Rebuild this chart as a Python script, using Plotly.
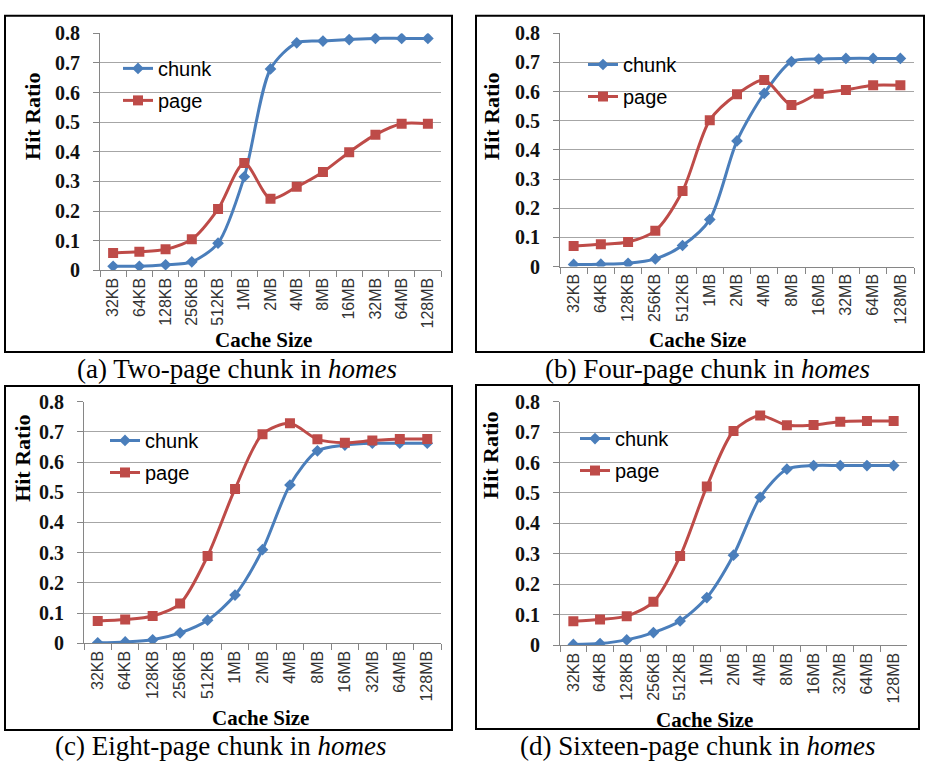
import plotly.graph_objects as go

W, H = 925, 772

categories = ["32KB", "64KB", "128KB", "256KB", "512KB", "1MB", "2MB",
              "4MB", "8MB", "16MB", "32MB", "64MB", "128MB"]
y_ticks = [0, 0.1, 0.2, 0.3, 0.4, 0.5, 0.6, 0.7, 0.8]
y_ticktext = ["0", "0.1", "0.2", "0.3", "0.4", "0.5", "0.6", "0.7", "0.8"]

a_chunk = [0.014, 0.014, 0.019, 0.029, 0.092, 0.316, 0.680, 0.768, 0.774, 0.779, 0.783, 0.783, 0.783]
a_page = [0.059, 0.063, 0.071, 0.105, 0.207, 0.362, 0.242, 0.282, 0.332, 0.399, 0.458, 0.495, 0.495]
b_chunk = [0.007, 0.008, 0.011, 0.026, 0.072, 0.161, 0.431, 0.594, 0.703, 0.712, 0.714, 0.714, 0.714]
b_page = [0.070, 0.076, 0.084, 0.123, 0.259, 0.502, 0.591, 0.640, 0.554, 0.593, 0.606, 0.622, 0.622]
c_chunk = [0.002, 0.005, 0.012, 0.035, 0.077, 0.160, 0.310, 0.524, 0.637, 0.656, 0.662, 0.662, 0.662]
c_page = [0.074, 0.079, 0.091, 0.132, 0.289, 0.511, 0.692, 0.728, 0.675, 0.664, 0.671, 0.676, 0.676]
d_chunk = [0.003, 0.006, 0.018, 0.042, 0.080, 0.157, 0.296, 0.486, 0.578, 0.590, 0.590, 0.590, 0.590]
d_page = [0.079, 0.085, 0.096, 0.143, 0.293, 0.521, 0.703, 0.754, 0.722, 0.723, 0.734, 0.736, 0.736]

captions = ["(a) Two-page chunk in <i>homes</i>", "(b) Four-page chunk in <i>homes</i>",
            "(c) Eight-page chunk in <i>homes</i>", "(d) Sixteen-page chunk in <i>homes</i>"]
series_names = ["chunk", "page"]

BLUE = "#4A7EBB"
RED = "#BE4B48"
GRID = "#A6A6A6"

# panel geometry in pixels: plot area (x0, x1, ytop, ybottom), frame, legend, labels
panels = [
    dict(plot=(100, 441, 23, 267), box=(5, 452, 5, 351), leg=(118, 39),
         ytitle=(33, 109), xtitle=(263, 339), cap=(237, 368), data=(a_chunk, a_page)),
    dict(plot=(560, 914, 23, 263), box=(476, 924, 5, 351), leg=(583, 35),
         ytitle=(492, 109), xtitle=(697, 339), cap=(707, 368), data=(b_chunk, b_page)),
    dict(plot=(84, 441, 402, 651), box=(5, 452, 386, 740), leg=(105, 422),
         ytitle=(23, 461), xtitle=(260, 728), cap=(220, 757), data=(c_chunk, c_page)),
    dict(plot=(560, 907, 402, 653), box=(476, 919, 385, 739), leg=(575, 420),
         ytitle=(491, 458), xtitle=(704, 730), cap=(697, 757), data=(d_chunk, d_page)),
]

fig = go.Figure()
layout = dict(width=W, height=H, margin=dict(l=0, r=0, t=0, b=0),
              paper_bgcolor="white", plot_bgcolor="white", showlegend=True)
shapes = []
annotations = []

for i, p in enumerate(panels):
    n = "" if i == 0 else str(i + 1)
    x0, x1, yt, yb = p["plot"]
    chunk, page = p["data"]
    legname = "legend" + n
    for k, (vals, color, sym, size) in enumerate([(chunk, BLUE, "diamond", 9), (page, RED, "square", 10)]):
        fig.add_trace(go.Scatter(
            x=categories, y=vals, name=series_names[k], mode="lines+markers",
            line=dict(color=color, width=3, shape="spline", smoothing=0.8),
            marker=dict(symbol=sym, size=size, color=color),
            xaxis="x" + n, yaxis="y" + n, legend=legname,
            legendgroup=f"{i}_{k}"))
    layout["xaxis" + n] = dict(
        domain=[x0 / W, x1 / W], anchor="y" + n, type="category",
        categoryorder="array", categoryarray=categories, range=[-0.5, 12.5],
        tickson="boundaries", ticks="outside", ticklen=6, tickcolor="#868686",
        showline=True, linecolor="#868686", linewidth=1, showgrid=False,
        tickangle=-90, tickfont=dict(family="Liberation Sans", size=16, color="#333333"),
        fixedrange=True)
    layout["yaxis" + n] = dict(
        domain=[1 - yb / H, 1 - yt / H], anchor="x" + n, range=[0, 0.8],
        tickvals=y_ticks, ticktext=["<b>%s</b>" % t for t in y_ticktext],
        ticks="outside", ticklen=6,
        tickcolor="#868686", showline=True, linecolor="#868686", linewidth=1,
        showgrid=True, gridcolor=GRID, gridwidth=1, zeroline=False,
        ticklabelstandoff=9,
        tickfont=dict(family="Liberation Serif", size=20, color="#111111"),
        fixedrange=True)
    lx, ly = p["leg"]
    layout[legname] = dict(
        x=lx / W, y=1 - ly / H, xanchor="left", yanchor="top",
        bgcolor="rgba(0,0,0,0)", borderwidth=0, tracegroupgap=3,
        traceorder="grouped", itemwidth=30,
        font=dict(family="Liberation Sans", size=20, color="black"))
    bx0, bx1, by0, by1 = p["box"]
    shapes.append(dict(type="rect", xref="paper", yref="paper",
                       x0=bx0 / W, x1=bx1 / W, y0=1 - by1 / H, y1=1 - by0 / H,
                       line=dict(color="black", width=2)))
    tx, ty = p["ytitle"]
    annotations.append(dict(text="<b>Hit Ratio</b>", x=tx / W, y=1 - ty / H, xref="paper", yref="paper",
                            showarrow=False, textangle=-90, xanchor="center", yanchor="middle",
                            font=dict(family="Liberation Serif", size=22, color="black")))
    tx, ty = p["xtitle"]
    annotations.append(dict(text="<b>Cache Size</b>", x=tx / W, y=1 - ty / H, xref="paper", yref="paper",
                            showarrow=False, xanchor="center", yanchor="middle",
                            font=dict(family="Liberation Serif", size=21, color="black")))
    tx, ty = p["cap"]
    annotations.append(dict(text=captions[i], x=tx / W, y=1 - ty / H, xref="paper", yref="paper",
                            showarrow=False, xanchor="center", yanchor="middle",
                            font=dict(family="Liberation Serif", size=27, color="black")))

layout["shapes"] = shapes
layout["annotations"] = annotations
fig.update_layout(**layout)
fig.write_html("out.html")
